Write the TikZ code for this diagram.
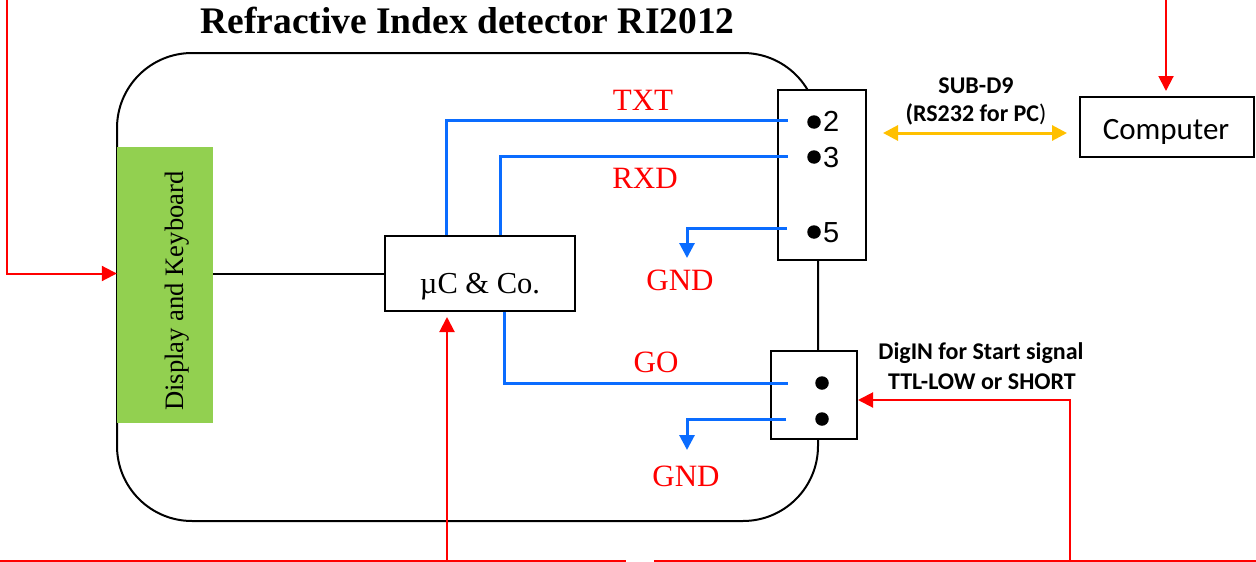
\documentclass[tikz,border=0pt]{standalone}
\usepackage{fontspec}
\setmainfont{Liberation Serif}
\newfontfamily\calfont{Carlito}
\newfontfamily\arsfont{Liberation Sans}
\usetikzlibrary{arrows.meta,calc}
\definecolor{dgreen}{HTML}{92D050}
\definecolor{sigblue}{HTML}{0A6CFF}
\definecolor{sigyellow}{HTML}{FFC000}
\tikzset{
  blk/.style={line width=2pt},
  box/.style={draw, line width=2pt, fill=white, inner sep=0pt},
  bl/.style={draw=sigblue, line width=3pt},
  rd/.style={draw=red, line width=2pt},
  tipp/.style={-{Triangle[length=15pt,width=15pt]}},
  lab/.style={text=red, font=\fontsize{31}{31}\selectfont, anchor=base, inner sep=0pt},
  pinlab/.style={font=\arsfont\fontsize{29}{29}\selectfont, anchor=base west, inner sep=0pt},
  sansb/.style={font=\calfont\bfseries\fontsize{24}{24}\selectfont, anchor=base, inner sep=0pt},
  pdot/.style={circle, fill=black, minimum size=13.5pt, inner sep=0pt},
}
\begin{document}
\begin{tikzpicture}[x=1pt,y=-1pt]
\useasboundingbox (0,0) rectangle (1256,562);

% title
\node[font=\bfseries\fontsize{37.5}{37.5}\selectfont, anchor=base, inner sep=0pt] (title) at (467.5,34) {Refractive Index detector RI2012};

% body
\draw[blk, rounded corners=75pt] (117,53) rectangle (818,521);

% display
\node[fill=dgreen, minimum width=96pt, minimum height=276pt, inner sep=0pt] (disp) at (165,285) {};
\node[rotate=90, anchor=base, inner sep=0pt, font=\fontsize{26.6}{26.6}\selectfont] (disptxt) at (183,291) {Display and Keyboard};

% uC
\node[box, minimum width=190pt, minimum height=75pt] (uc) at (480,273.5) {};
\node[anchor=base, inner sep=0pt, font=\fontsize{30.5}{30.5}\selectfont] (uctxt) at (480,293) {µC \& Co.};

% connector boxes
\node[box, minimum width=88pt, minimum height=170pt] (sub) at (822,175) {};
\node[box, minimum width=86pt, minimum height=88pt] (dig) at (814,395) {};
\node[box, minimum width=174pt, minimum height=60pt] (comp) at (1167,127) {};
\node[anchor=base, inner sep=0pt, font=\calfont\fontsize{31}{31}\selectfont] (comptxt) at (1166,139) {Computer};

% pins of SUB-D9
\node[pdot] (d2) at (814,122) {};
\node[pdot] (d3) at (814,157) {};
\node[pdot] (d5) at (814,232) {};
\node[pinlab] (n2) at (823,131) {2};
\node[pinlab] (n3) at (823,167) {3};
\node[pinlab] (n5) at (823,242) {5};
% pins of DigIN
\node[pdot] (e1) at (822,383) {};
\node[pdot] (e2) at (822,419) {};

% signal coordinates
\coordinate (p2) at (788,120);
\coordinate (p3) at (788,156);
\coordinate (p5) at (787,228);
\coordinate (g1) at (788,383);
\coordinate (g2) at (786,419);
\coordinate (tx) at (446,120);
\coordinate (rx) at (500,156);
\coordinate (gox) at (504,383);
\coordinate (gndA) at (687,258);
\coordinate (gndB) at (687,450);

% black link display - uC
\draw[blk] (disp.east |- uc.west) -- (uc.west);

% blue signals
\draw[bl] (tx |- uc.north) -- (tx) -- (p2);
\draw[bl] (rx |- uc.north) -- (rx) -- (p3);
\draw[bl, tipp] (p5) -| (gndA);
\draw[bl] (gox |- uc.south) -- (gox) -- (g1);
\draw[bl, tipp] (g2) -| (gndB);

% labels
\node[lab] (ltxt) at (643,110) {TXT};
\node[lab] (lrxd) at (645,188) {RXD};
\node[lab] (lgnd1) at (680,290) {GND};
\node[lab] (lgo) at (656,372) {GO};
\node[lab] (lgnd2) at (686,486) {GND};

% SUB-D9 text and yellow arrow
\node[sansb] (subtxt) at (976,93) {SUB-D9};
\node[sansb] (rstxt) at (976,121) {(RS232 for PC\normalfont\calfont)};
\coordinate (ya) at (883,133);
\coordinate (yb) at (1067,133);
\draw[draw=sigyellow, line width=3pt, {Triangle[length=15pt,width=15pt]}-{Triangle[length=15pt,width=15pt]}] (ya) -- (yb);

% DigIN text
\node[sansb] (digtxt1) at (981,359) {DigIN for Start signal};
\node[sansb] (digtxt2) at (982,389) {TTL-LOW or SHORT};

% red lines
\coordinate (rl) at (7,0);
\coordinate (rt) at (1166,0);
\coordinate (bl0) at (0,561);
\coordinate (bl1) at (626,561);
\coordinate (bl2) at (654,561);
\coordinate (bl3) at (1256,561);
\coordinate (ru) at (447,561);
\coordinate (rr) at (1070,561);
\draw[rd, tipp] (rl) |- (disp.west |- uc.west);
\draw[rd, tipp, shorten >=5pt] (rt) -- (comp.north -| rt);
\draw[rd] (bl0) -- (bl1);
\draw[rd] (bl2) -- (bl3);
\draw[rd, tipp, shorten >=5pt] (ru) -- (uc.south -| ru);
\draw[rd, tipp] (rr) |- ($(dig.east)+(0,5)$);
\end{tikzpicture}
\end{document}
